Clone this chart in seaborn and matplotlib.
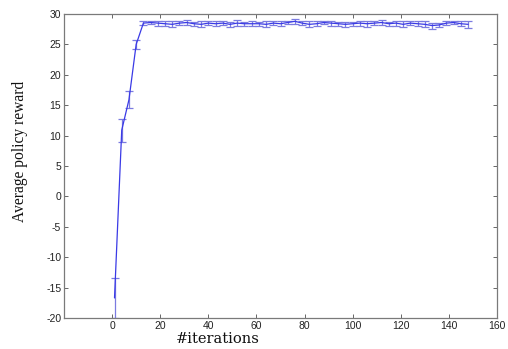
import matplotlib
matplotlib.use("Agg")
import matplotlib.pyplot as plt
import seaborn as sns
import pandas as pd

iterations = [1, 4, 7, 10, 13, 16, 19, 22, 25, 28, 31, 34, 37, 40, 43, 46, 49,
              52, 55, 58, 61, 64, 67, 70, 73, 76, 79, 82, 85, 88, 91, 94, 97,
              100, 103, 106, 109, 112, 115, 118, 121, 124, 127, 130, 133, 136,
              139, 142, 145, 148]
mean_reward = [-16.7, 10.9, 15.9, 25.0, 28.5, 28.6, 28.5, 28.4, 28.3, 28.5,
               28.6, 28.4, 28.3, 28.5, 28.4, 28.5, 28.3, 28.5, 28.4, 28.4,
               28.4, 28.3, 28.5, 28.4, 28.6, 28.8, 28.5, 28.3, 28.4, 28.6,
               28.5, 28.4, 28.3, 28.4, 28.5, 28.4, 28.5, 28.6, 28.4, 28.5,
               28.3, 28.5, 28.4, 28.3, 28.1, 28.2, 28.5, 28.6, 28.4, 28.3]
err_reward = [3.3, 1.9, 1.4, 0.8, 0.3, 0.3, 0.4, 0.4, 0.5, 0.3,
              0.4, 0.3, 0.5, 0.3, 0.4, 0.3, 0.4, 0.5, 0.3, 0.4,
              0.3, 0.5, 0.3, 0.4, 0.3, 0.4, 0.3, 0.5, 0.4, 0.3,
              0.4, 0.3, 0.4, 0.3, 0.4, 0.5, 0.3, 0.4, 0.3, 0.4,
              0.5, 0.3, 0.4, 0.5, 0.5, 0.4, 0.3, 0.3, 0.4, 0.6]
x_ticks = [0, 20, 40, 60, 80, 100, 120, 140, 160]
y_ticks = [-20, -15, -10, -5, 0, 5, 10, 15, 20, 25, 30]

df = pd.DataFrame({"iter": iterations, "reward": mean_reward, "err": err_reward})

sns.set_style("ticks")
plt.rcParams["font.family"] = ["Liberation Sans", "DejaVu Sans"]

fig = plt.figure(figsize=(5.08, 3.49), dpi=100)
ax = fig.add_axes([64 / 508, 1 - 318 / 349, (497 - 64) / 508, (318 - 14) / 349])

ax.errorbar(df["iter"], df["reward"], yerr=df["err"], fmt="none",
            ecolor="#7b7be0", elinewidth=0.9, capsize=3, capthick=0.9, zorder=2)
sns.lineplot(data=df, x="iter", y="reward", ax=ax, color="#3a3ae6",
             linewidth=0.9, zorder=3)

ax.set_xlim(-20, 160)
ax.set_ylim(-20, 30)
ax.set_xticks(x_ticks)
ax.set_yticks(y_ticks)
ax.set_xticklabels([str(t) for t in x_ticks], fontsize=7.5, color="#222222")
ax.set_yticklabels([str(t) for t in y_ticks], fontsize=7.5, color="#222222")
ax.tick_params(direction="in", length=3, width=0.7, color="#666666",
               top=True, right=True, pad=2)
for s in ax.spines.values():
    s.set_visible(True)
    s.set_color("#7a7a7a")
    s.set_linewidth(0.9)
ax.set_xlabel("")
ax.set_ylabel("")

fig.text(218 / 508, 1 - 339 / 349, "#iterations", family="DejaVu Serif",
         fontsize=10.5, ha="center", va="center", color="#111111")
fig.text(20 / 508, 1 - 151 / 349, "Average policy reward", family="Liberation Serif",
         fontsize=11.2, ha="center", va="center", rotation=90, color="#111111")

fig.savefig("out.png", dpi=100)
